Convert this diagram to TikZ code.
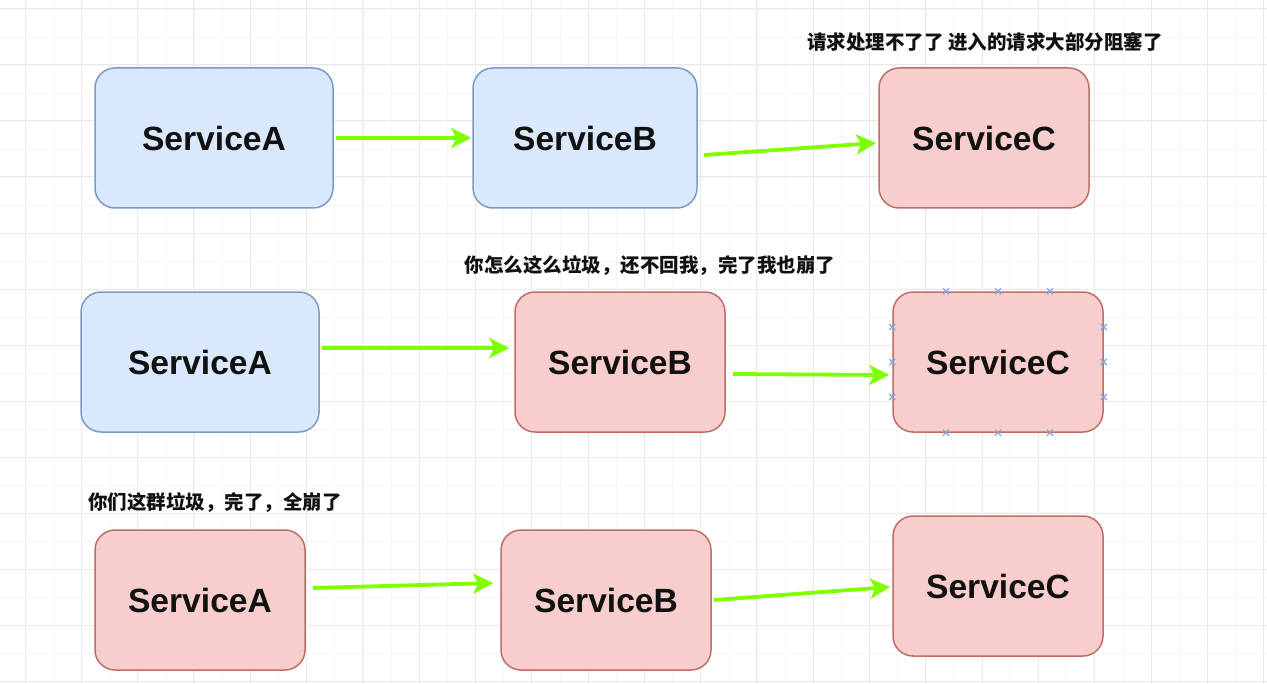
\documentclass[tikz,border=0pt]{standalone}
\usepackage{fontspec}
\setmainfont{Liberation Sans}
\newfontfamily\cjk{Noto Sans CJK SC}
\usetikzlibrary{arrows.meta}
\definecolor{bluefill}{HTML}{DAE8FC}
\definecolor{bluedraw}{HTML}{7C9AC6}
\definecolor{redfill}{HTML}{F8CECC}
\definecolor{reddraw}{HTML}{BC6E6A}
\definecolor{arrowgreen}{HTML}{80FF00}
\definecolor{gridc}{HTML}{E9E9E9}
\definecolor{gridm}{HTML}{F6F6F6}
\definecolor{handle}{HTML}{7EA6E0}
\definecolor{txt}{HTML}{111111}
\tikzset{
  svc/.style={rectangle, rounded corners=10pt, line width=0.75pt,
    minimum height=70pt, text=txt, font=\bfseries\fontsize{16.8}{20}\selectfont},
  bluebox/.style={svc, fill=bluefill, draw=bluedraw},
  redbox/.style={svc, fill=redfill, draw=reddraw},
  arr/.style={draw=arrowgreen, line width=1.9pt,
    -{Stealth[length=10pt, width=10pt, inset=2.5pt]}},
  note/.style={text=txt, font=\cjk\bfseries\fontsize{9.75}{12}\selectfont, inner sep=0pt},
  hmark/.style={draw=handle, line width=0.6pt}
}
\begin{document}
\begin{tikzpicture}[x=0.5pt, y=-0.5pt]
\useasboundingbox (0,0) rectangle (1267,684);
\fill[white] (0,0) rectangle (1267,684);
% grid
\foreach \i in {0,...,45} {
  \draw[gridm, line width=0.4pt] ({-3+28.15*\i},0) -- ({-3+28.15*\i},684);
}
\foreach \j in {0,...,25} {
  \draw[gridm, line width=0.4pt] (0,{-19+28*\j}) -- (1267,{-19+28*\j});
}
\foreach \i in {0,...,22} {
  \draw[gridc, line width=0.5pt] ({25+56.3*\i},0) -- ({25+56.3*\i},684);
}
\foreach \j in {0,...,12} {
  \draw[gridc, line width=0.5pt] (0,{9+56*\j}) -- (1267,{9+56*\j});
}
% row 1
\node[bluebox, minimum width=119pt] (a1) at (214,138) {ServiceA};
\node[bluebox, minimum width=112pt] (b1) at (585,138) {ServiceB};
\node[redbox,  minimum width=105pt] (c1) at (984,138) {ServiceC};
\node[note] (l1) at (985,42) {请求处理不了了 进入的请求大部分阻塞了};
% row 2
\node[bluebox, minimum width=119pt] (a2) at (200,362) {ServiceA};
\node[redbox,  minimum width=105pt] (b2) at (620,362) {ServiceB};
\node[redbox,  minimum width=105pt] (c2) at (998,362) {ServiceC};
\node[note] (l2) at (650,266) {你怎么这么垃圾，还不回我，完了我也崩了};
% row 3
\node[redbox, minimum width=105pt] (a3) at (200,600) {ServiceA};
\node[redbox, minimum width=105pt] (b3) at (606,600) {ServiceB};
\node[redbox, minimum width=105pt] (c3) at (998,586) {ServiceC};
\node[note, anchor=west] (l3) at (88,503) {你们这群垃圾，完了，全崩了};
% arrows
\draw[arr] ([shift={(2,0)}]a1.east) -- ([shift={(-1,0)}]b1.west);
\draw[arr] ([shift={(6,17)}]b1.east) -- ([shift={(-2,5)}]c1.west);
\draw[arr] ([shift={(2,-14)}]a2.east) -- ([shift={(-5,-14)}]b2.west);
\draw[arr] ([shift={(7,12)}]b2.east) -- ([shift={(-3,13)}]c2.west);
\draw[arr] ([shift={(7,-12)}]a3.east) -- ([shift={(-7,-17)}]b3.west);
\draw[arr] ([shift={(2,0)}]b3.east) -- ([shift={(-2,1)}]c3.west);
% selection handles on c2
\foreach \dx in {-52,0,52} {
  \draw[hmark] ([shift={(\dx-3,-3)}]c2.north) -- ([shift={(\dx+3,3)}]c2.north)
               ([shift={(\dx-3,3)}]c2.north) -- ([shift={(\dx+3,-3)}]c2.north);
  \draw[hmark] ([shift={(\dx-3,-3)}]c2.south) -- ([shift={(\dx+3,3)}]c2.south)
               ([shift={(\dx-3,3)}]c2.south) -- ([shift={(\dx+3,-3)}]c2.south);
}
\foreach \dy in {-35,0,35} {
  \draw[hmark] ([shift={(-3,\dy-3)}]c2.west) -- ([shift={(3,\dy+3)}]c2.west)
               ([shift={(-3,\dy+3)}]c2.west) -- ([shift={(3,\dy-3)}]c2.west);
  \draw[hmark] ([shift={(-3,\dy-3)}]c2.east) -- ([shift={(3,\dy+3)}]c2.east)
               ([shift={(-3,\dy+3)}]c2.east) -- ([shift={(3,\dy-3)}]c2.east);
}
\end{tikzpicture}
\end{document}
